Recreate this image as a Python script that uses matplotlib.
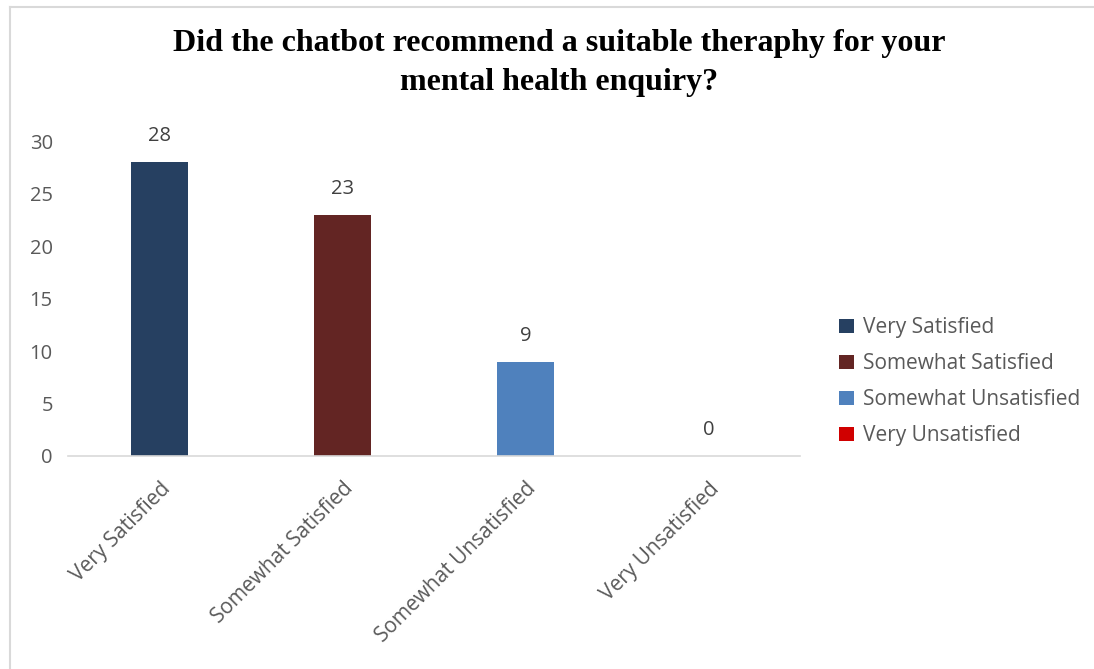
import matplotlib.pyplot as plt
from matplotlib.lines import Line2D

categories = ["Very Satisfied", "Somewhat Satisfied", "Somewhat Unsatisfied", "Very Unsatisfied"]
counts = [28, 23, 9, 0]
colors = ["#264061", "#632523", "#4F81BD", "#D00000"]
yticks = [0, 5, 10, 15, 20, 25, 30]

title = "Did the chatbot recommend a suitable theraphy for your\nmental health enquiry?"
font = "Open Sans"
grey = "#595959"

fig = plt.figure(figsize=(10.94, 6.69), dpi=100)
ax = fig.add_axes([0.0622, 0.3184, 0.6691, 0.4708])

x = range(len(categories))
bars = ax.bar(x, counts, width=0.31, color=colors, label=categories)

# value labels above each bar
for xi, v in zip(x, counts):
    ax.text(xi, v + 1.5, str(v), ha="center", va="bottom",
            fontsize=14.5, family=font, color="#404040")

ax.set_xlim(-0.5, 3.5)
ax.set_ylim(0, 30)
ax.set_yticks(yticks)
ax.set_yticklabels([str(t) for t in yticks], fontsize=14.5, family=font, color=grey)
ax.set_xticks(list(x))
ax.set_xticklabels(categories, rotation=45, ha="right", rotation_mode="anchor",
                   fontsize=15, family=font, color=grey)
ax.tick_params(axis="both", length=0)
ax.tick_params(axis="y", pad=11)
ax.tick_params(axis="x", pad=16)

for s in ["top", "right", "left"]:
    ax.spines[s].set_visible(False)
ax.spines["bottom"].set_color("#D9D9D9")
ax.spines["bottom"].set_linewidth(1.2)

fig.text(0.511, 0.906, title, ha="center", va="center", fontsize=23,
         family="Liberation Serif", weight="bold", linespacing=1.45)

leg = ax.legend(handles=bars, labels=categories, loc="center left",
                bbox_to_anchor=(1.028, 0.235), frameon=False, handlelength=0.7,
                handleheight=0.7, handletextpad=0.45, labelspacing=0.72,
                prop={"family": font, "size": 15})
for t in leg.get_texts():
    t.set_color(grey)

# outer frame lines along top and left edges
fig.add_artist(Line2D([0.009, 1.0], [0.989, 0.989], color="#D9D9D9", lw=1.5, transform=fig.transFigure))
fig.add_artist(Line2D([0.009, 0.009], [0.0, 0.989], color="#D9D9D9", lw=1.5, transform=fig.transFigure))

fig.savefig("out.png", dpi=100, facecolor="white")
